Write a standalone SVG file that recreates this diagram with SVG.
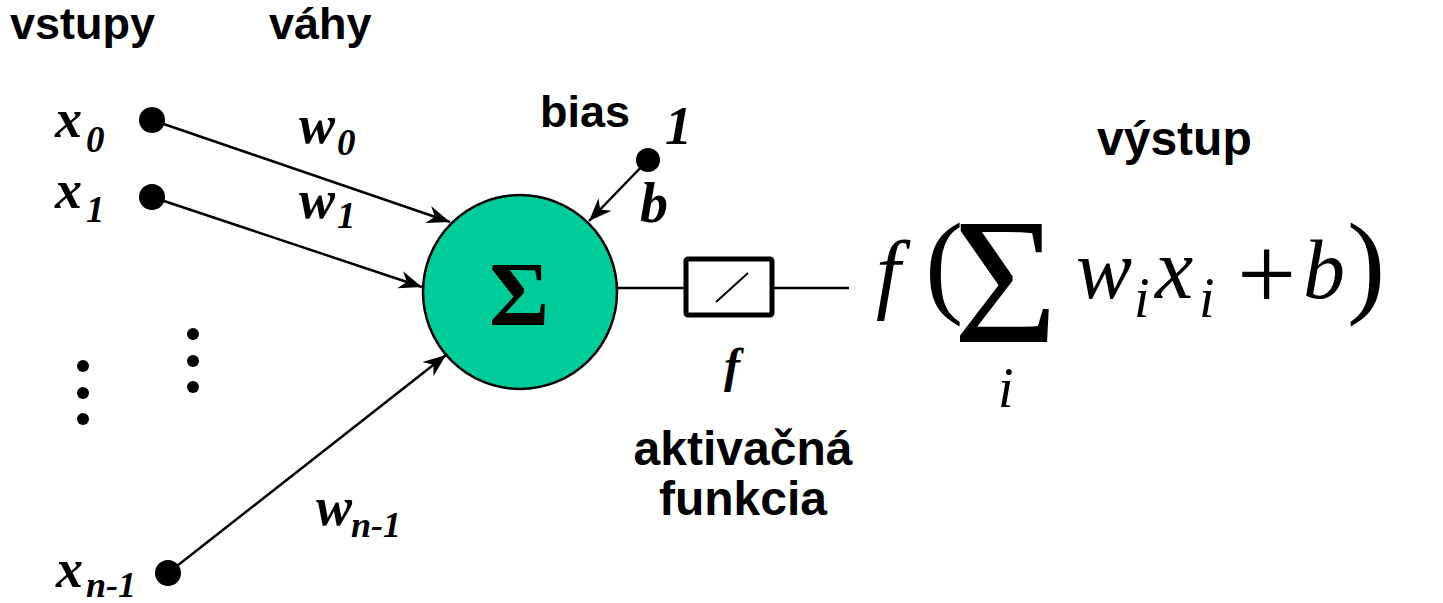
<svg xmlns="http://www.w3.org/2000/svg" width="1443" height="603" viewBox="0 0 1443 603">
<style>
.lbl{font-family:"Liberation Sans",Arial,sans-serif;font-weight:bold;fill:#000}
.var{font-family:"Liberation Serif","Times New Roman",serif;font-weight:bold;font-style:italic;fill:#000}
.math{font-family:"Liberation Serif","Times New Roman",serif;fill:#000}
.mi{font-style:italic}
.edge{stroke:#000;stroke-width:2.5;fill:none}
.dot{fill:#000}
</style>
<defs>
<marker id="arr" viewBox="-24 -10 26 20" refX="0" refY="0" markerUnits="userSpaceOnUse" markerWidth="26" markerHeight="20" orient="auto">
<path d="M0,0 L-23,-9 L-16,0 L-23,9 Z" fill="#000"/>
</marker>
</defs>
<rect width="1443" height="603" fill="#fff"/>

<g id="headers">
<text class="lbl" x="10" y="39" font-size="45">vstupy</text>
<text class="lbl" x="269" y="39" font-size="45">váhy</text>
<text class="lbl" x="540" y="127" font-size="45">bias</text>
<text class="lbl" x="1097" y="155" font-size="48">výstup</text>
<text class="lbl" x="743" y="465" font-size="48" text-anchor="middle">aktivačná</text>
<text class="lbl" x="743" y="515" font-size="48" text-anchor="middle">funkcia</text>
</g>

<g id="connectors">
<line class="edge" x1="152" y1="120" x2="450" y2="222" marker-end="url(#arr)"/>
<line class="edge" x1="152" y1="197" x2="422" y2="287" marker-end="url(#arr)"/>
<line class="edge" x1="168" y1="573" x2="446" y2="355" marker-end="url(#arr)"/>
<line class="edge" x1="648" y1="160" x2="589" y2="221" marker-end="url(#arr)"/>
<line class="edge" x1="616" y1="288" x2="684" y2="288"/>
<line class="edge" x1="773" y1="288" x2="849" y2="288"/>
</g>

<g id="input-x0">
<circle class="dot" cx="152" cy="120" r="13"/>
<text class="var" x="55" y="137" font-size="54">x</text>
<text class="var" x="86" y="152" font-size="37">0</text>
</g>
<g id="input-x1">
<circle class="dot" cx="152" cy="197" r="13"/>
<text class="var" x="55" y="208" font-size="54">x</text>
<text class="var" x="86" y="222" font-size="37">1</text>
</g>
<g id="input-xn1">
<circle class="dot" cx="168" cy="573" r="13"/>
<text class="var" x="56" y="587" font-size="54">x</text>
<text class="var" x="86" y="597" font-size="36">n-1</text>
</g>
<g id="ellipsis-inputs">
<circle class="dot" cx="83" cy="366" r="6"/>
<circle class="dot" cx="83" cy="393" r="6"/>
<circle class="dot" cx="83" cy="419" r="6"/>
</g>
<g id="ellipsis-weights">
<circle class="dot" cx="193" cy="334" r="6"/>
<circle class="dot" cx="193" cy="361" r="6"/>
<circle class="dot" cx="193" cy="387" r="6"/>
</g>

<g id="weights">
<text class="var" x="299" y="143" font-size="54">w</text>
<text class="var" x="337" y="155" font-size="37">0</text>
<text class="var" x="299" y="218" font-size="54">w</text>
<text class="var" x="337" y="228" font-size="37">1</text>
<text class="var" x="316" y="525" font-size="54">w</text>
<text class="var" x="351" y="537" font-size="36">n-1</text>
</g>

<g id="bias">
<circle class="dot" cx="648" cy="160" r="12"/>
<text class="var" x="665" y="144" font-size="54">1</text>
<text class="var" x="640" y="222" font-size="56">b</text>
</g>

<g id="sum-node">
<circle cx="520" cy="292" r="97" fill="#00CC99" stroke="#000" stroke-width="2.5"/>
<text x="519" y="325" font-size="92" font-family="'Liberation Serif','Times New Roman',serif" font-weight="bold" text-anchor="middle">Σ</text>
</g>

<g id="activation">
<rect x="686" y="259" width="86" height="56" rx="2" fill="#fff" stroke="#000" stroke-width="5"/>
<line x1="716" y1="302" x2="748" y2="273" stroke="#000" stroke-width="2"/>
<text class="var" x="724" y="382" font-size="48">f</text>
</g>

<g id="output-formula" class="math">
<text x="876" y="302" font-size="88" class="mi">f</text>
<text x="925" y="302" font-size="115">(</text>
<text x="953" y="342" font-size="180">Σ</text>
<text x="998" y="407" font-size="56" class="mi">i</text>
<text x="1076" y="298" font-size="84" class="mi">w</text>
<text x="1134" y="317" font-size="56" class="mi">i</text>
<text x="1155" y="298" font-size="86" class="mi">x</text>
<text x="1199" y="317" font-size="56" class="mi">i</text>
<text x="1237" y="310" font-size="105">+</text>
<text x="1303" y="298" font-size="84" class="mi">b</text>
<text x="1347" y="302" font-size="115">)</text>
</g>
</svg>
